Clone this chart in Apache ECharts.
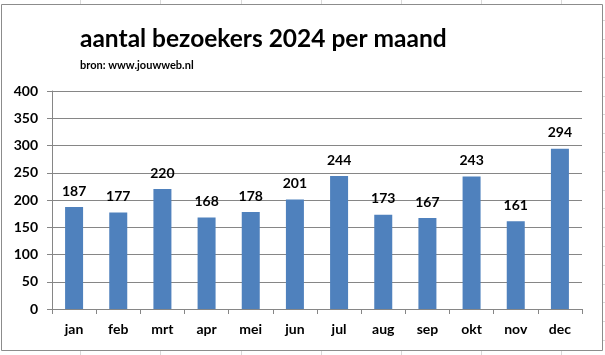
<!DOCTYPE html>
<html><head><meta charset="utf-8">
<script src="https://cdn.jsdelivr.net/npm/echarts@6/dist/echarts.min.js"></script>
<style>html,body{margin:0;padding:0;background:#fff}#c{width:605px;height:355px}</style>
</head><body><div id="c"></div>
<script>
const months = ['jan','feb','mrt','apr','mei','jun','jul','aug','sep','okt','nov','dec'];
const visitors = [187,177,220,168,178,201,244,173,167,243,161,294];
const yTicks = [0,50,100,150,200,250,300,350,400];
const titleText = 'aantal bezoekers 2024 per maand';
const subText = 'bron: www.jouwweb.nl';

const chart = echarts.init(document.getElementById('c'), null, {renderer:'canvas'});
const font = 'Lato, "Open Sans", sans-serif';
// faint spreadsheet cell lines behind the chart frame
const cellLines = [];
for (let i = 1; i <= 7; i++) {
  const x = Math.round(i * 80.2) + 0.5;
  cellLines.push({type:'line', shape:{x1:x,y1:0,x2:x,y2:5}, style:{stroke:'#d9d9d9',lineWidth:1}, z:-2});
  cellLines.push({type:'line', shape:{x1:x,y1:350,x2:x,y2:355}, style:{stroke:'#d9d9d9',lineWidth:1}, z:-2});
}
for (let k = 0; k < 18; k++) {
  const y = Math.round(340 - k * 18.8) + 0.5;
  cellLines.push({type:'line', shape:{x1:603,y1:y,x2:605,y2:y}, style:{stroke:'#d9d9d9',lineWidth:1}, z:-2});
}
chart.setOption({
  animation:false,
  backgroundColor:'#fff',
  textStyle:{fontFamily:font},
  graphic:cellLines.concat([
    {type:'rect', shape:{x:1.5,y:4.5,width:601,height:346}, style:{fill:'none',stroke:'#8c8c8c',lineWidth:1}, z:-1}
  ]),
  title:[
    {text:titleText, left:75, top:22, textStyle:{fontFamily:font,fontSize:24.5,fontWeight:'bold',color:'#000'}},
    {text:subText, left:75, top:55, textStyle:{fontFamily:font,fontSize:11,fontWeight:'bold',color:'#000'}}
  ],
  grid:{left:52, right:23, top:91, bottom:46, containLabel:false},
  xAxis:{
    type:'category', data:months,
    axisLine:{lineStyle:{color:'#868686'}},
    axisTick:{show:true, alignWithLabel:false, length:5, lineStyle:{color:'#868686'}},
    axisLabel:{color:'#000', fontWeight:'bold', fontSize:14, margin:13}
  },
  yAxis:{
    type:'value', min:0, max:400, interval:50,
    axisLine:{show:true, lineStyle:{color:'#868686'}},
    axisTick:{show:true, length:5, lineStyle:{color:'#868686'}},
    splitLine:{lineStyle:{color:'#868686'}},
    axisLabel:{color:'#000', fontWeight:'bold', fontSize:14, margin:14,
      formatter:v=>yTicks.includes(v)?String(v):''}
  },
  series:[{
    type:'bar', data:visitors, barWidth:18,
    itemStyle:{color:'#4F81BD'},
    label:{show:true, position:'top', distance:9, color:'#000', fontWeight:'bold', fontSize:14}
  }]
});
</script></body></html>
